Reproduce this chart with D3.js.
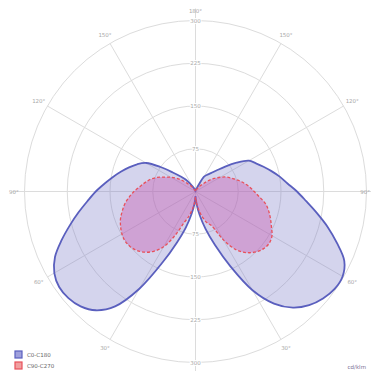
<!DOCTYPE html>
<html>
<head>
<meta charset="utf-8">
<script src="https://cdn.jsdelivr.net/npm/d3@7"></script>
<style>
  html, body { margin: 0; padding: 0; background: #fff; }
  svg { display: block; }
</style>
</head>
<body>
<svg id="chart" width="371" height="371"></svg>
<script>
// Gamma angles (degrees from nadir), 5° steps
const gammas = d3.range(0, 181, 5);

// Luminous intensity, cd/klm
const c0   = [8,22,42,68,100,145,200,240,266,282,292,298,298,288,264,240,216,195,178,162,150,138,127,117,108,88,68,52,42,36,30,12,6,4,3,2,1];
const c180 = [8,22,40,65,95,138,197,246,272,285,291,292,286,272,250,228,208,190,175,160,147,135,124,113,100,75,52,38,28,18,10,6,4,3,2,1,0];
const c90  = [10,20,33,46,58,66,98,125,140,150,156,158,155,147,140,133,125,113,103,95,86,77,68,60,50,40,30,20,13,8,5,3,2,1,1,0,0];
const c270 = [10,20,32,45,58,85,112,128,139,146,150,151,149,145,140,133,126,117,108,98,90,82,72,60,50,40,30,20,13,8,4,3,2,1,1,0,0];

const ringValues = [75, 150, 225, 300];
const spokeAngles = d3.range(0, 360, 30);
// gamma value shown at each side of the diagram (0° is nadir, 180° zenith)
const angleLabels = [
  {g: 180, side: 1}, {g: 150, side: -1}, {g: 150, side: 1},
  {g: 120, side: -1}, {g: 120, side: 1}, {g: 90, side: -1}, {g: 90, side: 1},
  {g: 60, side: -1}, {g: 60, side: 1}, {g: 30, side: -1}, {g: 30, side: 1}
];
const legendItems = [
  {name: "C0-C180", stroke: "#5a5fbe", fill: "#9fa0dc"},
  {name: "C90-C270", stroke: "#e8505a", fill: "#f0a0a0"}
];
const unitLabel = "cd/klm";

const svg = d3.select("#chart");
const cx = 195.5, cy = 191.5;
const r = d3.scaleLinear().domain([0, 300]).range([0, 171]);
const R = r(300);

const g = svg.append("g").attr("transform", `translate(${cx},${cy})`);
const grid = g.append("g");

// concentric rings
grid.selectAll("circle").data(ringValues).join("circle")
  .attr("r", d => r(d)).attr("fill", "none")
  .attr("stroke", "#dcdcdc").attr("stroke-width", 1);

// radial spokes every 30°
grid.selectAll("line.spoke").data(spokeAngles).join("line")
  .attr("class", "spoke")
  .attr("x1", 0).attr("y1", 0)
  .attr("x2", d => (d % 90 === 0 ? R + 12 : R) * Math.sin(d * Math.PI / 180))
  .attr("y2", d => -(d % 90 === 0 ? R + 12 : R) * Math.cos(d * Math.PI / 180))
  .attr("stroke", "#dcdcdc").attr("stroke-width", 1);

// polar curve: right half uses first series, left half the second
function lobePoints(right, left) {
  const pts = [];
  gammas.forEach((gm, i) => pts.push([Math.PI - gm * Math.PI / 180, r(right[i])]));
  for (let i = gammas.length - 1; i >= 0; i--) {
    pts.push([Math.PI + gammas[i] * Math.PI / 180, r(left[i])]);
  }
  return pts;
}
const radial = d3.lineRadial()
  .angle(d => d[0]).radius(d => d[1])
  .curve(d3.curveCatmullRomClosed.alpha(0.5));

g.append("path").attr("d", radial(lobePoints(c0, c180)))
  .attr("fill", "#7c7cc8").attr("fill-opacity", 0.33)
  .attr("stroke", "#5a5fbe").attr("stroke-width", 1.8);

g.append("path").attr("d", radial(lobePoints(c90, c270)))
  .attr("fill", "#c84aa8").attr("fill-opacity", 0.36)
  .attr("stroke", "#e8505a").attr("stroke-width", 1.3)
  .attr("stroke-dasharray", "3,2");

// ring value labels on the vertical axis
const lab = g.append("g").attr("font-family", "DejaVu Sans, sans-serif")
  .attr("font-size", 5.5).attr("fill", "#a8a8a8").attr("text-anchor", "middle");
ringValues.forEach(v => {
  [-1, 1].forEach(s => {
    lab.append("text").attr("x", 0).attr("y", s * r(v) + 2)
      .attr("stroke", "#fff").attr("stroke-width", 2).attr("paint-order", "stroke")
      .text(v);
  });
});

// angle labels around the outside
lab.selectAll("text.ang").data(angleLabels).join("text")
  .attr("class", "ang")
  .attr("text-anchor", d => d.g === 90 ? (d.side < 0 ? "start" : "end") : "middle")
  .attr("x", d => {
    if (d.g === 90) return d.side < 0 ? -cx + 9 : 371 - cx - 1;
    return d.side * (R + 10) * Math.sin((180 - d.g) * Math.PI / 180);
  })
  .attr("y", d => -(R + 10) * Math.cos((180 - d.g) * Math.PI / 180) + 2)
  .text(d => d.g + "°");

// legend
const leg = svg.append("g").attr("font-family", "DejaVu Sans, sans-serif")
  .attr("font-size", 5.5).attr("fill", "#666");
legendItems.forEach((d, i) => {
  const y = 351 + i * 11;
  leg.append("rect").attr("x", 15).attr("y", y).attr("width", 7).attr("height", 7)
    .attr("fill", d.fill).attr("stroke", d.stroke).attr("stroke-width", 1.2);
  leg.append("text").attr("x", 27).attr("y", y + 5.5).text(d.name);
});

svg.append("text").attr("x", 366).attr("y", 369)
  .attr("text-anchor", "end").attr("font-family", "DejaVu Sans, sans-serif")
  .attr("font-size", 5.5).attr("fill", "#7a6f95").text(unitLabel);
</script>
</body>
</html>
